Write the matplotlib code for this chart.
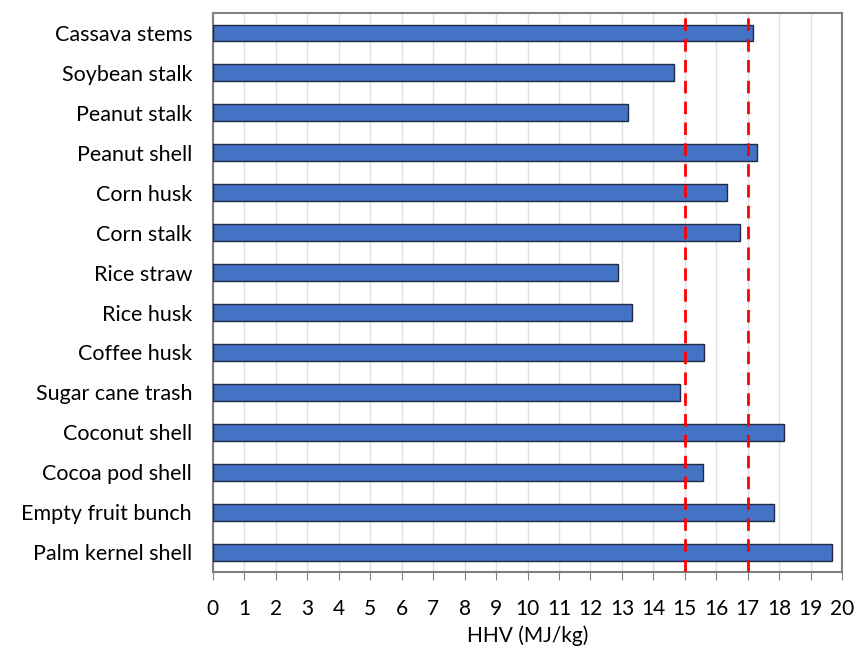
import matplotlib
matplotlib.use("Agg")
import matplotlib.pyplot as plt

categories = ["Cassava stems", "Soybean stalk", "Peanut stalk", "Peanut shell", "Corn husk",
              "Corn stalk", "Rice straw", "Rice husk", "Coffee husk", "Sugar cane trash",
              "Coconut shell", "Cocoa pod shell", "Empty fruit bunch", "Palm kernel shell"]
hhv = [17.18, 14.65, 13.19, 17.28, 16.35, 16.74, 12.88, 13.32, 15.62, 14.84,
       18.14, 15.59, 17.82, 19.68]
ref_lines = [15, 17]
x_ticks = list(range(0, 21))

plt.rcParams['font.family'] = ['Lato', 'DejaVu Sans']

fig = plt.figure(figsize=(8.55, 6.48), dpi=100)
ax = fig.add_axes([0.249, 0.117, 0.736, 0.863])

ypos = list(range(len(categories)))
ax.barh(ypos, hhv, height=0.42, color="#4472C4", edgecolor="#1F2A44", linewidth=1.0, zorder=3)
for v in ref_lines:
    ax.axvline(v, color="#FF0000", linestyle=(0, (4.5, 3)), linewidth=2, zorder=4)

ax.set_xlim(0, 20)
ax.set_ylim(len(categories) - 0.5, -0.5)
ax.set_yticks(ypos)
ax.set_yticklabels(categories, fontsize=15.5)
ax.set_xticks(x_ticks)
ax.set_xticklabels([str(t) for t in x_ticks], fontsize=15)
ax.set_xlabel("HHV (MJ/kg)", fontsize=15, labelpad=5)
ax.tick_params(axis='y', length=0, pad=15)
ax.tick_params(axis='x', length=6, direction='out', color="#808080", pad=13)
ax.grid(axis='x', color="#E0E0E0", linewidth=1, zorder=0)
for s in ax.spines.values():
    s.set_color("#808080")
    s.set_linewidth(1.5)

fig.savefig("out.png", dpi=100)
